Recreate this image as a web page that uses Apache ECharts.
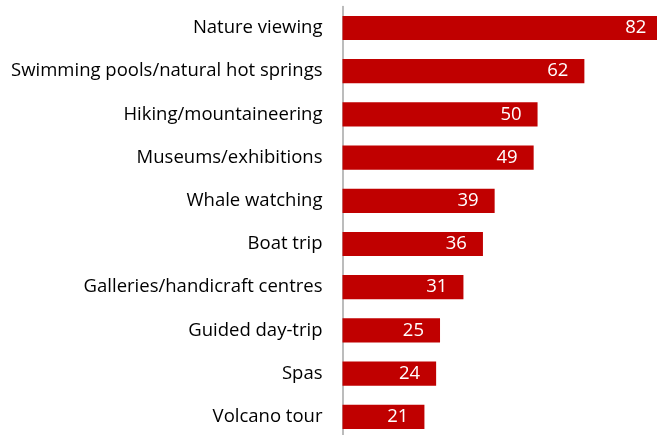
<!DOCTYPE html>
<html>
<head>
<meta charset="utf-8">
<script src="https://cdn.jsdelivr.net/npm/echarts@6/dist/echarts.min.js"></script>
<style>
  html, body { margin: 0; padding: 0; background: #fff; overflow: hidden; }
  /* the plot is slightly larger than the visible area: the longest bar runs off the edge */
  #chart { width: 663px; height: 439px; }
</style>
</head>
<body>
<div id="chart"></div>
<script>
// Activities, top to bottom
const activities = [
  'Nature viewing',
  'Swimming pools/natural hot springs',
  'Hiking/mountaineering',
  'Museums/exhibitions',
  'Whale watching',
  'Boat trip',
  'Galleries/handicraft centres',
  'Guided day-trip',
  'Spas',
  'Volcano tour'
];
// Share of respondents (%)
const shares = [82, 62, 50, 49, 39, 36, 31, 25, 24, 21];

const chart = echarts.init(document.getElementById('chart'));
chart.setOption({
  animation: false,
  grid: { left: 342.5, right: 0.6, top: 6.4, bottom: 0.6, containLabel: false },
  xAxis: {
    type: 'value', min: 0, max: 82,
    show: false
  },
  yAxis: {
    type: 'category',
    data: activities,
    inverse: true,
    axisLine: { show: true, lineStyle: { color: '#a6a6a6', width: 1.5 } },
    axisTick: { show: false },
    axisLabel: {
      margin: 20, color: '#000', fontFamily: 'Open Sans', fontSize: 18.5
    }
  },
  series: [{
    type: 'bar',
    data: shares,
    barCategoryGap: '44%',
    itemStyle: { color: '#c00000' },
    label: {
      show: true, position: 'insideRight', distance: 16,
      color: '#fff', fontFamily: 'Open Sans', fontSize: 18.5
    }
  }]
});
</script>
</body>
</html>
